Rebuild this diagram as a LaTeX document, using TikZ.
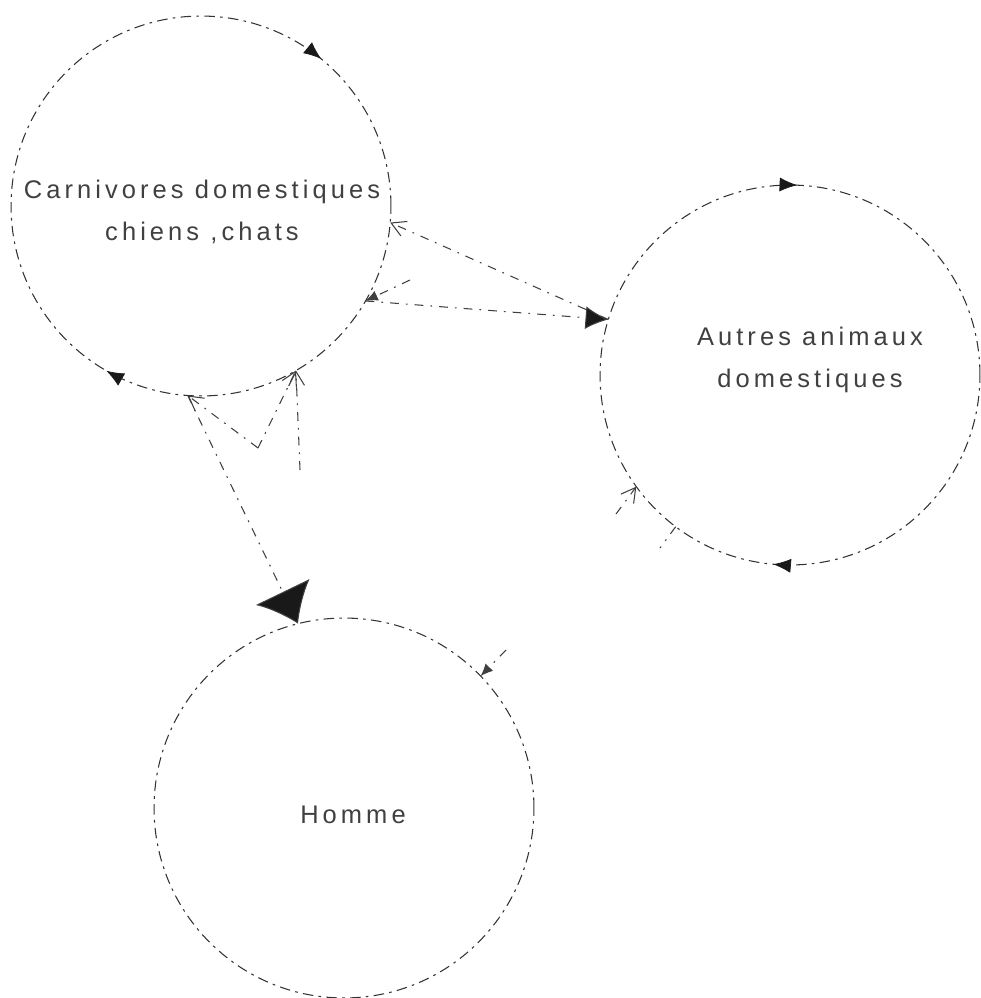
\documentclass[tikz,border=0pt]{standalone}
\usepackage{fontspec}
\setmainfont{Liberation Sans}
\newfontfamily\lblfont[LetterSpace=16]{Liberation Sans}
\usetikzlibrary{arrows.meta,decorations.markings}
\begin{document}
\begin{tikzpicture}[x=0.02cm,y=0.02cm,
  ring/.style={circle, draw=black!80, line width=0.6pt,
    dash pattern=on 6pt off 3pt on 1.5pt off 3pt,
    minimum size=7.6cm, inner sep=0pt, outer sep=0pt},
  txt/.style={align=center, font=\lblfont\fontsize{14.5}{24}\selectfont, text=black!75, inner sep=0pt},
  link/.style={draw=black!75, line width=0.6pt, dash pattern=on 5pt off 4pt on 1pt off 4pt},
  cwtip/.style={decoration={markings, mark=at position #1 with {\arrowreversed[black!90]{Latex[length=10pt,width=8pt]}}}, postaction=decorate},
  bigtip/.style={-{Latex[length=20pt,width=34pt,fill=black!90]}},
  midtip/.style={-{Latex[length=13pt,width=13pt,fill=black!90]}},
  barb/.style={-{Straight Barb[length=8pt,width=9pt]}},
  smalltip/.style={-{Latex[length=7pt,width=6pt]}}
]
\useasboundingbox (0,0) rectangle (981,-998);
% reservoirs
\node[ring] (c1) at (201,-206) {};
\node[ring] (c2) at (790,-375) {};
\node[ring] (c3) at (344,-808) {};
% labels
\node[txt] (t1) at (202,-212) {Carnivores domestiques\\chiens ,chats};
\node[txt] (t2) at (810,-360) {Autres animaux\\domestiques};
\node[txt] (t3) at (353,-815) {Homme};
% circulation arrows on the circles
\path[cwtip=0.141] (c1.center) circle[radius=190];
\path[cwtip=0.667] (c1.center) circle[radius=190];
\path[cwtip=0.244] (c2.center) circle[radius=190];
\path[cwtip=0.736] (c2.center) circle[radius=190];
% free ends
\coordinate (m1) at (258,-448);
\coordinate (m2) at (300,-470);
\coordinate (m3) at (410,-280);
\coordinate (m4) at (660,-548);
\coordinate (m5) at (506,-650);
\coordinate (m6) at (616,-514);
% connectors between circles
\draw[link, barb] (c2.163) -- (c1.-5);
\draw[link, midtip] (c1.330) -- (c2.163);
\draw[link, smalltip] (m3) -- (c1.330);
\draw[link, bigtip] (c1.266) -- (c3.104);
\draw[link, barb] (m1) -- (c1.266);
\draw[link, barb] (m1) -- (c1.300);
\draw[link, barb] (m2) -- (c1.300);
\draw[link, smalltip] (m5) -- (c3.44);
\draw[link, barb] (m6) -- (c2.216);
\draw[link] (c2.233) -- (m4);
\end{tikzpicture}
\end{document}
